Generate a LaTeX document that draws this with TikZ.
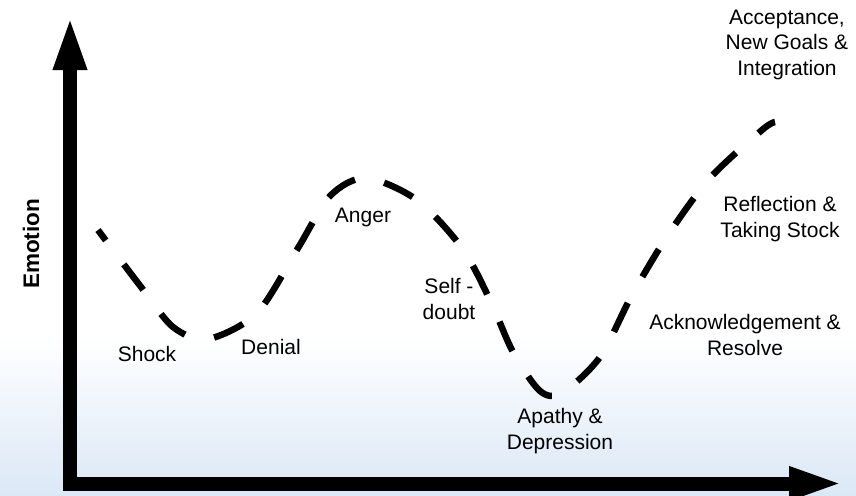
\documentclass[tikz,border=0pt]{standalone}
\usepackage{fontspec}
\setmainfont{Liberation Sans}
\usetikzlibrary{arrows.meta}
\definecolor{bgblue}{RGB}{219,232,246}

\begin{document}
\begin{tikzpicture}[
        x=1pt, y=-1pt,
        every node/.style={font=\fontsize{21}{25.5}\selectfont, inner sep=0pt},
        stage/.style={align=center},
        axislabel/.style={font=\fontsize{22.5}{27}\selectfont\bfseries, rotate=90},
        axisarrow/.style={line width=14pt, -{Triangle[length=55pt, width=30pt]}},
        moodline/.style={line width=6.5pt, dash pattern=on 32pt off 30pt, dash phase=19pt}
        ]

        % Background with light blue fade at the bottom
        \useasboundingbox (0,0) rectangle (856,495);
        \fill[white] (0,0) rectangle (856,495);
        \shade[top color=white, bottom color=bgblue] (0,335) rectangle (856,495);

        % Axes
        \coordinate (ybase) at (70,490.5);
        \coordinate (ytop) at (70,15);
        \coordinate (xbase) at (63,483.5);
        \coordinate (xend) at (844,483.5);
        \draw[axisarrow] (ybase) -- (ytop);
        \draw[axisarrow] (xbase) -- (xend);
        \node[axislabel] (emotion) at (31,244) {Emotion};

        % Emotional curve
        \draw[moodline] plot[smooth] coordinates {(98,230) (138,283) (173,327) (208,339) (257,313) (298,248) (330,196) (366,178) (417,200) (462,248) (490,300) (513,352) (540,391) (562,393) (600,357) (632,295) (668,235) (710,178) (762,130) (775,122)};

        % Stage labels
        \node[anchor=base] (shock) at (147,361) {Shock};
        \node[anchor=base] (denial) at (271,354) {Denial};
        \node[anchor=base] (anger) at (363,222) {Anger};
        \node[stage] (doubt) at (449,299) {Self -\\doubt};
        \node[stage] (apathy) at (560,431) {Apathy \&\\Depression};
        \node[stage] (resolve) at (745,335) {Acknowledgement \&\\Resolve};
        \node[stage] (reflect) at (780,219) {Reflection \&\\Taking Stock};
        \node[stage] (accept) at (787,44.5) {Acceptance,\\New Goals \&\\Integration};

    \end{tikzpicture}
\end{document}
